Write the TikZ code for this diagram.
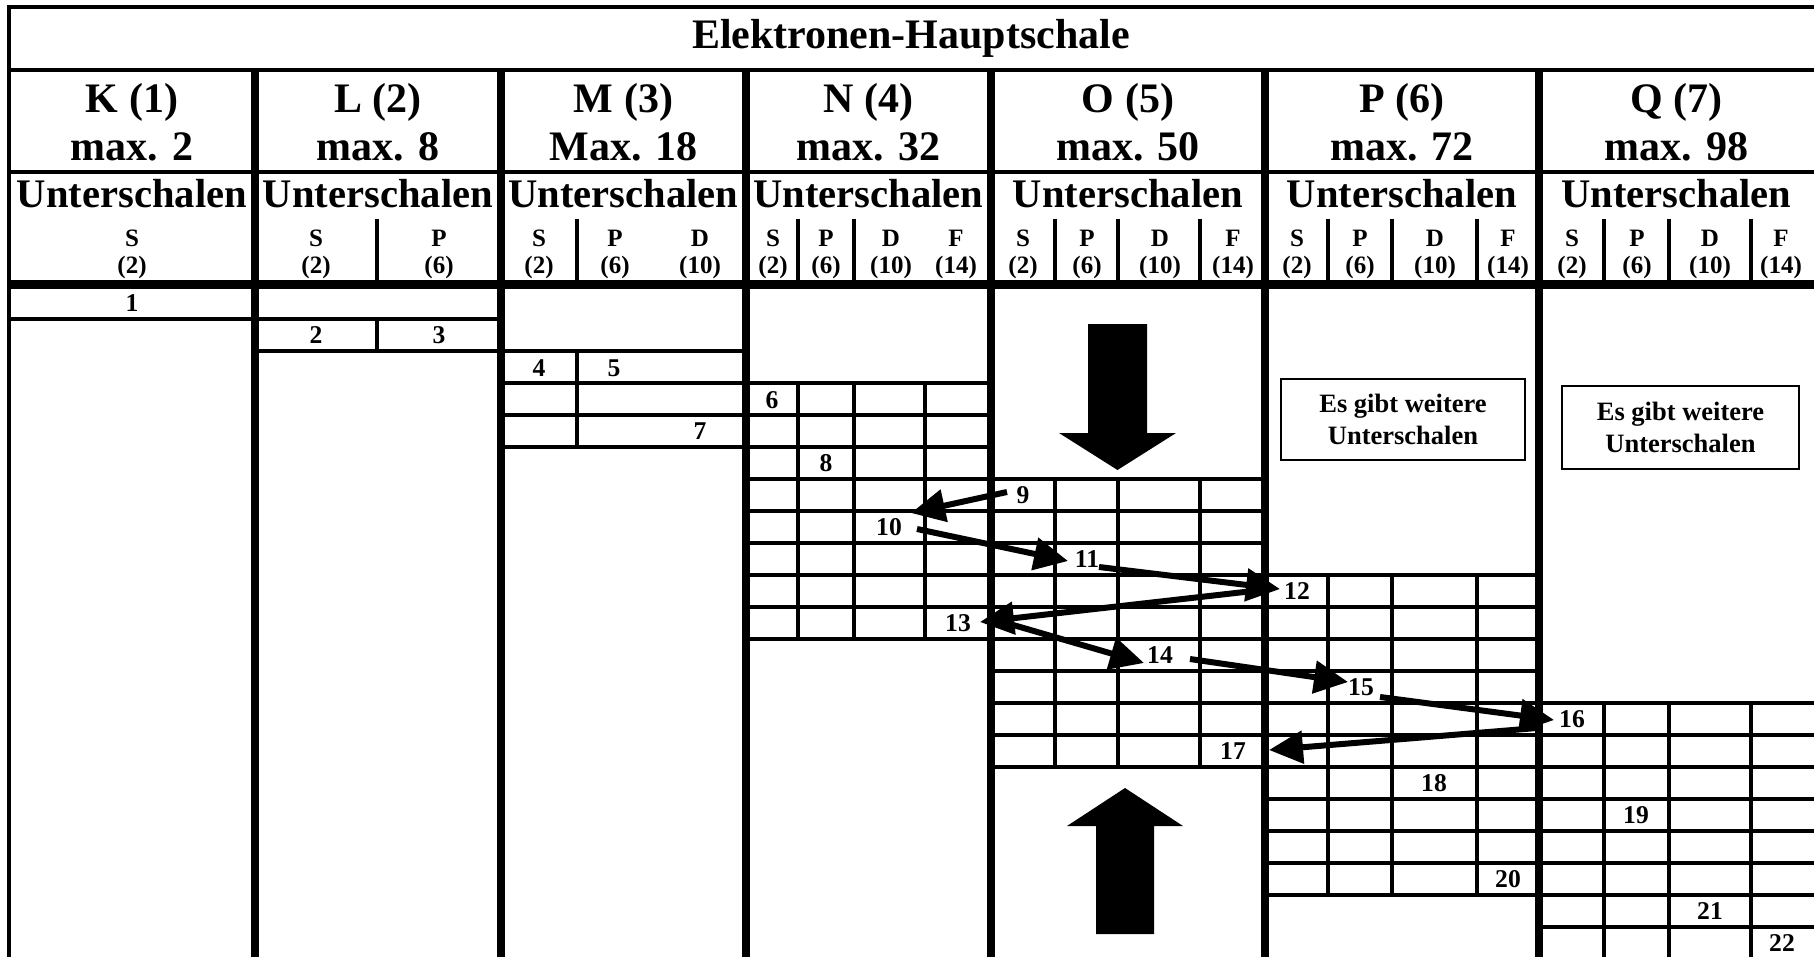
\documentclass[tikz,border=0pt]{standalone}
\usepackage{fontspec}
\setmainfont{Liberation Serif}
\usetikzlibrary{arrows.meta}
\begin{document}
\begin{tikzpicture}[x=0.5pt,y=-0.5pt,
  thinl/.style={line width=1.6pt},
  thickl/.style={line width=4pt},
  borderl/.style={line width=2pt},
  big/.style={font=\fontsize{21}{24}\selectfont\bfseries, inner sep=0pt, anchor=base},
  unter/.style={font=\fontsize{20.3}{24}\selectfont\bfseries, inner sep=0pt, anchor=base},
  sublab/.style={font=\fontsize{12.5}{13}\selectfont\bfseries, inner sep=0pt, anchor=base},
  num/.style={font=\fontsize{12.8}{13}\selectfont\bfseries, inner sep=0pt},
  infobox/.style={draw, line width=1pt, align=center, inner sep=0pt, font=\fontsize{13.25}{16}\selectfont\bfseries},
  zz/.style={line width=3pt, -{Triangle[length=17pt,width=16pt]}},
  bigarrow/.style={fill=black}
]
\useasboundingbox (0,0) rectangle (1814,957);
\fill[white] (0,0) rectangle (1814,957);
\clip (0,0) rectangle (1814,957);

% outer frame and header lines
\draw[borderl] (1814,7) -- (9,7) -- (9,957);
\draw[borderl] (9,70) -- (1814,70);
\draw[borderl] (9,172) -- (1814,172);
\draw[line width=4.5pt] (9,284.5) -- (1814,284.5);
\foreach \x in {255,501,746,991,1265,1539}
  \draw[thickl] (\x,70) -- (\x,957);

% header sub dividers
\foreach \x in {377,577,798,854,1055,1118,1200,1328,1392,1477,1604,1669,1751}
  \draw[thinl] (\x,219) -- (\x,280);

% title
\node[big] (title) at (911,49) {Elektronen-Hauptschale};

% shell headers
\foreach \i/\x/\a/\b in {1/132/K (1)/max. 2, 2/378/L (2)/max. 8, 3/623.5/M (3)/Max. 18,
    4/868.5/N (4)/max. 32, 5/1128/O (5)/max. 50, 6/1402/P (6)/max. 72, 7/1676.5/Q (7)/max. 98}{
  \node[big] (hn\i) at (\x,113) {\a};
  \node[big] (hm\i) at (\x,161) {\b};
  \node[unter] (hu\i) at (\x,208) {Unterschalen};
}

% subshell labels
\foreach \i/\x/\l/\c in {1/132/S/2, 2/316/S/2, 3/439/P/6, 4/539/S/2, 5/615/P/6, 6/700/D/10,
    7/773/S/2, 8/826/P/6, 9/891/D/10, 10/956/F/14,
    11/1023/S/2, 12/1087/P/6, 13/1160/D/10, 14/1233/F/14,
    15/1297/S/2, 16/1360/P/6, 17/1435/D/10, 18/1508/F/14,
    19/1572/S/2, 20/1637/P/6, 21/1710/D/10, 22/1781/F/14}{
  \node[sublab] (sl\i) at (\x,247) {\l};
  \node[sublab] (sc\i) at (\x,273) {(\c)};
}

% body grid
% K
\draw[thinl] (9,319) -- (255,319);
% L
\foreach \y in {319,351} \draw[thinl] (255,\y) -- (501,\y);
\draw[thinl] (377,319) -- (377,351);
% M
\foreach \y in {351,383,415,447} \draw[thinl] (501,\y) -- (746,\y);
\draw[thinl] (577,351) -- (577,447);
% N
\foreach \k in {2,...,10} \draw[thinl] (746,319+32*\k) -- (991,319+32*\k);
\foreach \x in {798,854,925} \draw[thinl] (\x,383) -- (\x,639);
% O
\foreach \k in {5,...,14} \draw[thinl] (991,319+32*\k) -- (1265,319+32*\k);
\foreach \x in {1055,1118,1200} \draw[thinl] (\x,479) -- (\x,767);
% P
\foreach \k in {8,...,18} \draw[thinl] (1265,319+32*\k) -- (1539,319+32*\k);
\foreach \x in {1328,1392,1477} \draw[thinl] (\x,575) -- (\x,895);
% Q
\foreach \k in {12,...,19} \draw[thinl] (1539,319+32*\k) -- (1814,319+32*\k);
\foreach \x in {1604,1669,1751} \draw[thinl] (\x,703) -- (\x,957);

% electron numbers
\foreach \i/\x/\y in {1/132/303, 2/316/335, 3/439/335, 4/539/368, 5/614/368, 6/772/400,
    7/700/431, 8/826/463, 9/1023/495, 10/889/527, 11/1087/559, 12/1297/591,
    13/958/623, 14/1160/655, 15/1361/687, 16/1572/719, 17/1233/751, 18/1434/783,
    19/1636/815, 20/1508/879, 21/1710/911, 22/1782/943}
  \node[num] (n\i) at (\x,\y) {\i};

% info boxes
\node[infobox, minimum width=122pt, minimum height=40.5pt] (box1) at (1403,419.5) {Es gibt weitere\\Unterschalen};
\node[infobox, minimum width=118.5pt, minimum height=41.5pt] (box2) at (1680.5,427.5) {Es gibt weitere\\Unterschalen};

% big arrows
\fill[bigarrow] (1088,324) -- (1147,324) -- (1147,433) -- (1176,433) -- (1117.5,470) -- (1059,433) -- (1088,433) -- cycle;
\fill[bigarrow] (1096,934) -- (1154,934) -- (1154,826) -- (1183,826) -- (1125,788) -- (1067,826) -- (1096,826) -- cycle;

% zigzag order arrows
\coordinate (a9) at (1007,492);  \coordinate (b10) at (911,513);
\coordinate (a10) at (917,529);  \coordinate (b11) at (1068,561);
\coordinate (a11) at (1099,567); \coordinate (b12) at (1280,589);
\coordinate (a12) at (1262,590); \coordinate (b13) at (980,622);
\coordinate (a13) at (996,620);  \coordinate (b14) at (1144,663);
\coordinate (a14) at (1190,659); \coordinate (b15) at (1348,682);
\coordinate (a15) at (1380,697); \coordinate (b16) at (1554,720);
\coordinate (a16) at (1537,728); \coordinate (b17) at (1269,750);
\draw[zz] (a9) -- (b10);
\draw[zz] (a10) -- (b11);
\draw[zz] (a11) -- (b12);
\draw[zz] (a12) -- (b13);
\draw[zz] (a13) -- (b14);
\draw[zz] (a14) -- (b15);
\draw[zz] (a15) -- (b16);
\draw[zz] (a16) -- (b17);
\end{tikzpicture}
\end{document}
